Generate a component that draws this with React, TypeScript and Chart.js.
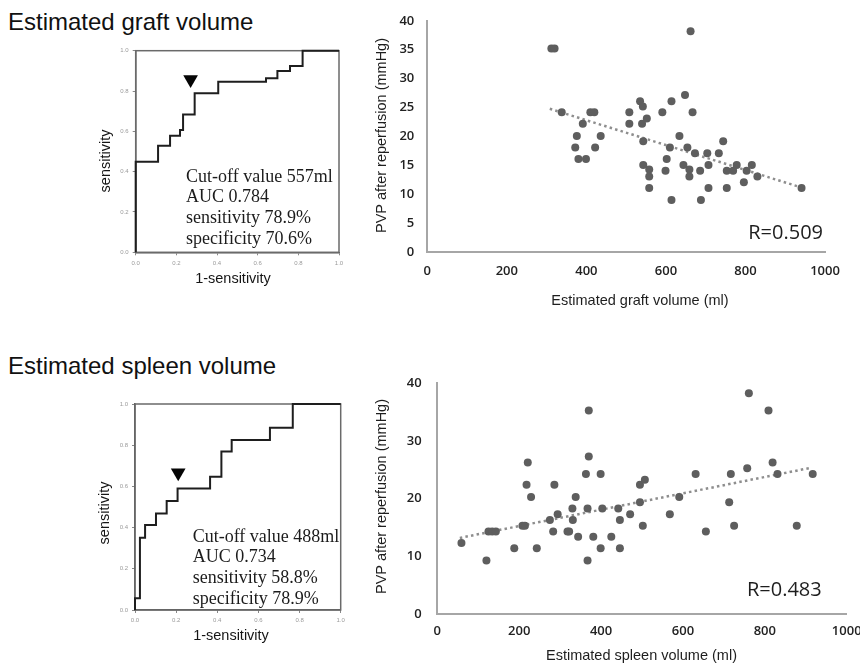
import React, { useEffect, useRef } from 'react';
import { Chart, registerables } from 'chart.js';

Chart.register(...registerables);

// ---------------- DATA ----------------
// ROC: estimated graft volume (1-specificity vs sensitivity, staircase corners)
const graftRocFpr = [0, 0, 0.11, 0.11, 0.169, 0.169, 0.218, 0.218, 0.233, 0.233, 0.29, 0.29, 0.406, 0.406, 0.641, 0.641, 0.697, 0.697, 0.759, 0.759, 0.821, 0.821, 1];
const graftRocTpr = [0, 0.449, 0.449, 0.529, 0.529, 0.578, 0.578, 0.607, 0.607, 0.684, 0.684, 0.789, 0.789, 0.846, 0.846, 0.863, 0.863, 0.899, 0.899, 0.924, 0.924, 1, 1];
const graftCutFpr = [0.27];
const graftCutTpr = [0.857];
const graftRocText = ['Cut-off value 557ml', 'AUC 0.784', 'sensitivity 78.9%', 'specificity 70.6%'];

// ROC: estimated spleen volume
const spleenRocFpr = [0, 0, 0.024, 0.024, 0.049, 0.049, 0.102, 0.102, 0.154, 0.154, 0.207, 0.207, 0.365, 0.365, 0.42, 0.42, 0.47, 0.47, 0.656, 0.656, 0.767, 0.767, 1];
const spleenRocTpr = [0, 0.057, 0.057, 0.351, 0.351, 0.413, 0.413, 0.469, 0.469, 0.529, 0.529, 0.59, 0.59, 0.647, 0.647, 0.769, 0.769, 0.825, 0.825, 0.885, 0.885, 1, 1];
const spleenCutFpr = [0.21];
const spleenCutTpr = [0.666];
const spleenRocText = ['Cut-off value 488ml', 'AUC 0.734', 'sensitivity 58.8%', 'specificity 78.9%'];

const rocTitleX = '1-sensitivity';
const rocTitleY = 'sensitivity';

// Scatter: graft volume vs PVP
const graftVolume = [312, 320, 662, 338, 391, 410, 420, 376, 436, 372, 422, 380, 399, 508, 508, 535, 542, 540, 552, 543, 543, 558, 558, 558, 591, 614, 610, 602, 599, 614, 634, 648, 667, 654, 644, 659, 659, 673, 686, 688, 704, 707, 707, 733, 744, 753, 769, 753, 778, 803, 816, 796, 830, 941];
const graftPvp = [35.2, 35.2, 38.2, 24.2, 22.2, 24.2, 24.2, 20.1, 20.1, 18.1, 18.1, 16.1, 16.1, 24.2, 22.2, 26.1, 25.2, 22.2, 23.1, 19.2, 15.1, 14.3, 13.1, 11.1, 24.2, 26.1, 18.1, 16.1, 14.1, 9.05, 20.1, 27.2, 24.2, 18.1, 15.1, 14.3, 13.1, 17.1, 14.1, 9.05, 17.1, 15.1, 11.1, 17.1, 19.2, 14.1, 14.1, 11.1, 15.1, 14.1, 15.1, 12.1, 13.1, 11.1];
const graftTrendX = [308, 945];
const graftTrendY = [24.8, 11.1];
const graftR = 'R=0.509';

// Scatter: spleen volume vs PVP
const spleenVolume = [59, 120, 125, 134, 143, 188, 208, 214, 218, 221, 229, 243, 275, 283, 286, 294, 318, 322, 330, 331, 338, 344, 363, 370, 370, 367, 367, 381, 399, 399, 403, 425, 442, 446, 446, 471, 495, 495, 502, 507, 568, 591, 631, 656, 713, 717, 725, 757, 761, 809, 819, 831, 878, 917];
const spleenPvp = [12.3, 9.3, 14.3, 14.3, 14.3, 11.4, 15.3, 15.3, 22.4, 26.3, 20.3, 11.4, 16.3, 14.3, 22.4, 17.3, 14.3, 14.3, 18.3, 16.3, 20.3, 13.4, 24.3, 35.3, 27.3, 18.3, 9.3, 13.4, 24.3, 11.4, 18.3, 13.4, 18.3, 16.3, 11.4, 17.3, 22.4, 19.4, 15.3, 23.3, 17.3, 20.3, 24.3, 14.3, 19.4, 24.3, 15.3, 25.3, 38.3, 35.3, 26.3, 24.3, 15.3, 24.3];
const spleenTrendX = [55, 915];
const spleenTrendY = [13.2, 25.4];
const spleenR = 'R=0.483';

const pvpTitle = 'PVP after reperfusion (mmHg)';
const graftVolTitle = 'Estimated graft volume (ml)';
const spleenVolTitle = 'Estimated spleen volume (ml)';
const panelTitles = ['Estimated graft volume', 'Estimated spleen volume'];

// ---------------- HELPERS ----------------
type TextItem = { text: string; x: number; y: number; font: string; color?: string; align?: CanvasTextAlign; baseline?: CanvasTextBaseline; rot?: number };

function makeOverlay(ox: number, oy: number, texts: TextItem[], frame?: { color: string; width: number }) {
  return {
    id: 'overlay',
    beforeDatasetsDraw(chart: any) {
      if (!frame) return;
      const { ctx, chartArea } = chart;
      ctx.save();
      ctx.strokeStyle = frame.color;
      ctx.lineWidth = frame.width;
      ctx.strokeRect(chartArea.left, chartArea.top, chartArea.right - chartArea.left, chartArea.bottom - chartArea.top);
      ctx.restore();
    },
    afterDraw(chart: any) {
      const ctx = chart.ctx;
      for (const t of texts) {
        ctx.save();
        ctx.translate(t.x - ox, t.y - oy);
        if (t.rot) ctx.rotate(t.rot);
        ctx.font = t.font;
        ctx.fillStyle = t.color || '#1a1a1a';
        ctx.textAlign = t.align || 'center';
        ctx.textBaseline = t.baseline || 'middle';
        ctx.fillText(t.text, 0, 0);
        ctx.restore();
      }
    },
  };
}

const zip = (xs: number[], ys: number[]) => xs.map((x, i) => ({ x, y: ys[i] }));

type Box = { left: number; top: number; width: number; height: number };

function rocConfig(box: Box, fpr: number[], tpr: number[], cf: number[], ct: number[], lines: string[], area: { l: number; t: number; r: number; b: number }, textPos: { x: number; y0: number; dy: number }, titlePos: { yx: number; yy: number; xx: number; xy: number }) {
  const texts: TextItem[] = lines.map((s, i) => ({ text: s, x: textPos.x, y: textPos.y0 + i * textPos.dy, font: '18px "Liberation Serif", "Times New Roman", serif', color: '#1c1c1c', align: 'left', baseline: 'alphabetic' }));
  texts.push({ text: rocTitleY, x: titlePos.yx, y: titlePos.yy, font: '14.5px "Liberation Sans", Arial, sans-serif', color: '#151515', rot: -Math.PI / 2, baseline: 'alphabetic' });
  texts.push({ text: rocTitleX, x: titlePos.xx, y: titlePos.xy, font: '14.5px "Liberation Sans", Arial, sans-serif', color: '#151515' });
  const tickFont = { family: '"Liberation Sans", Arial, sans-serif', size: 6 };
  return {
    type: 'scatter',
    data: {
      datasets: [
        { data: zip(cf, ct), showLine: false, pointStyle: 'triangle', rotation: 180, pointRadius: 8.5, backgroundColor: '#050505', borderColor: '#050505', borderWidth: 0, clip: false },
        { data: zip(fpr, tpr), showLine: true, borderColor: '#1e1e1e', borderWidth: 2, pointRadius: 0, clip: false, tension: 0 },
      ],
    },
    options: {
      responsive: false,
      animation: false,
      events: [],
      layout: { padding: { left: 0, top: area.t - box.top, right: box.left + box.width - area.r, bottom: 0 } },
      plugins: { legend: { display: false }, tooltip: { enabled: false } },
      scales: {
        x: {
          type: 'linear', min: 0, max: 1,
          ticks: { stepSize: 0.2, font: tickFont, color: '#9a9a9a', padding: 4, maxRotation: 0, autoSkip: false, callback: (v: any) => Number(v).toFixed(1) },
          grid: { display: true, drawOnChartArea: false, drawTicks: true, tickLength: 3, color: '#888' },
          border: { color: '#5a5a5a', width: 1.5 },
          afterFit: (s: any) => { s.height = box.top + box.height - area.b; },
        },
        y: {
          type: 'linear', min: 0, max: 1,
          ticks: { stepSize: 0.2, font: tickFont, color: '#9a9a9a', padding: 4, autoSkip: false, callback: (v: any) => Number(v).toFixed(1) },
          grid: { display: true, drawOnChartArea: false, drawTicks: true, tickLength: 3, color: '#888' },
          border: { color: '#5a5a5a', width: 1.5 },
          afterFit: (s: any) => { s.width = area.l - box.left; },
        },
      },
    },
    plugins: [makeOverlay(box.left, box.top, texts, { color: '#6a6a6a', width: 1.5 })],
  };
}

function scatterConfig(box: Box, xs: number[], ys: number[], tx: number[], ty: number[], yStep: number, area: { l: number; t: number; r: number; b: number }, pads: { y: number; x: number }, texts: TextItem[]) {
  const tickFont = { family: '"Open Sans", "DejaVu Sans", sans-serif', size: 13, weight: '600' };
  return {
    type: 'scatter',
    data: {
      datasets: [
        { data: zip(xs, ys), pointRadius: 4, pointBackgroundColor: '#5e5e5e', pointBorderWidth: 0, borderWidth: 0, showLine: false },
        { data: zip(tx, ty), showLine: true, pointRadius: 0, borderColor: '#8e8e8e', borderWidth: 2.5, borderDash: [2.5, 3.2], tension: 0 },
      ],
    },
    options: {
      responsive: false,
      animation: false,
      events: [],
      layout: { padding: { left: 0, top: area.t - box.top, right: box.left + box.width - area.r, bottom: 0 } },
      plugins: { legend: { display: false }, tooltip: { enabled: false } },
      scales: {
        x: {
          type: 'linear', min: 0, max: 1000,
          ticks: { stepSize: 200, font: tickFont, color: '#222', padding: pads.x, maxRotation: 0, autoSkip: false, callback: (v: any) => String(v) },
          grid: { display: false, drawTicks: false, tickLength: 0 },
          border: { color: '#a6a6a6', width: 2 },
          afterFit: (s: any) => { s.height = box.top + box.height - area.b; },
        },
        y: {
          type: 'linear', min: 0, max: 40,
          ticks: { stepSize: yStep, font: tickFont, color: '#222', padding: pads.y, autoSkip: false, callback: (v: any) => String(v) },
          grid: { display: false, drawTicks: false, tickLength: 0 },
          border: { color: '#a6a6a6', width: 2 },
          afterFit: (s: any) => { s.width = area.l - box.left; },
        },
      },
    },
    plugins: [makeOverlay(box.left, box.top, texts)],
  };
}

function ChartBox({ box, config }: { box: Box; config: any }) {
  const ref = useRef<HTMLCanvasElement>(null);
  useEffect(() => {
    const chart = new Chart(ref.current as HTMLCanvasElement, config);
    return () => chart.destroy();
  }, []);
  return (
    <div style={{ position: 'absolute', left: box.left, top: box.top, width: box.width, height: box.height }}>
      <canvas ref={ref} width={box.width} height={box.height} style={{ width: box.width, height: box.height, display: 'block' }} />
    </div>
  );
}

const axisTitleFont = '14.5px "Liberation Sans", Arial, sans-serif';
const rFont = '20px "Open Sans", "DejaVu Sans", sans-serif';

export default function App() {
  const rocTopBox = { left: 40, top: 30, width: 320, height: 265 };
  const rocBotBox = { left: 40, top: 385, width: 320, height: 278 };
  const scTopBox = { left: 360, top: 0, width: 500, height: 320 };
  const scBotBox = { left: 360, top: 360, width: 520, height: 303 };

  const rocTop = rocConfig(rocTopBox, graftRocFpr, graftRocTpr, graftCutFpr, graftCutTpr, graftRocText,
    { l: 135.7, t: 50.7, r: 339, b: 252.3 }, { x: 186, y0: 181.7, dy: 20.6 }, { yx: 110, yy: 161, xx: 233, xy: 279 });
  const rocBot = rocConfig(rocBotBox, spleenRocFpr, spleenRocTpr, spleenCutFpr, spleenCutTpr, spleenRocText,
    { l: 135, t: 404, r: 340.7, b: 610 }, { x: 192.7, y0: 541.7, dy: 20.6 }, { yx: 108.5, yy: 513, xx: 231, xy: 636 });

  const scTop = scatterConfig(scTopBox, graftVolume, graftPvp, graftTrendX, graftTrendY, 5,
    { l: 427.3, t: 16.7, r: 825, b: 252.3 }, { y: 13, x: 11.6 }, [
      { text: pvpTitle, x: 382, y: 135.5, font: axisTitleFont, color: '#1e1e1e', rot: -Math.PI / 2 },
      { text: graftVolTitle, x: 640, y: 300.5, font: axisTitleFont, color: '#1e1e1e' },
      { text: graftR, x: 823, y: 233, font: rFont, color: '#1e1e1e', align: 'right' },
    ]);
  const scBot = scatterConfig(scBotBox, spleenVolume, spleenPvp, spleenTrendX, spleenTrendY, 10,
    { l: 437.3, t: 377.3, r: 846.7, b: 614 }, { y: 15.6, x: 9.9 }, [
      { text: pvpTitle, x: 382, y: 496.5, font: axisTitleFont, color: '#1e1e1e', rot: -Math.PI / 2 },
      { text: spleenVolTitle, x: 641.5, y: 655.5, font: axisTitleFont, color: '#1e1e1e' },
      { text: spleenR, x: 821.7, y: 590, font: rFont, color: '#1e1e1e', align: 'right' },
    ]);

  const titleStyle: React.CSSProperties = { position: 'absolute', left: 8, font: '24px "Liberation Sans", Arial, sans-serif', lineHeight: '24px', color: '#111', whiteSpace: 'nowrap' };

  return (
    <div style={{ position: 'absolute', left: 0, top: 0, width: 860, height: 663, overflow: 'hidden', background: '#fff' }}>
      <div style={{ ...titleStyle, top: 9.7 }}>{panelTitles[0]}</div>
      <div style={{ ...titleStyle, top: 353.7 }}>{panelTitles[1]}</div>
      <ChartBox box={rocTopBox} config={rocTop} />
      <ChartBox box={scTopBox} config={scTop} />
      <ChartBox box={rocBotBox} config={rocBot} />
      <ChartBox box={scBotBox} config={scBot} />
    </div>
  );
}
